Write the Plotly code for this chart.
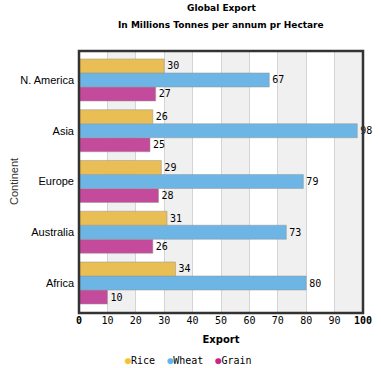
import plotly.graph_objects as go

continents = ["Africa", "Australia", "Europe", "Asia", "N. America"]
rice = [34, 31, 29, 26, 30]
wheat = [80, 73, 79, 98, 67]
grain = [10, 26, 28, 25, 27]
x_ticks = [0, 10, 20, 30, 40, 50, 60, 70, 80, 90, 100]
x_tick_text = ["<b>0</b>", "10", "20", "30", "40", "50", "60", "70", "80", "90", "<b>100</b>"]
series_names = ["Rice", "Wheat", "Grain"]

colors = {"Rice": "#e8be55", "Wheat": "#6db5e5", "Grain": "#c44b9c"}
legend_colors = {"Rice": "#f5c232", "Wheat": "#5ab8f0", "Grain": "#c8248c"}

fig = go.Figure()
mono = "DejaVu Sans Mono"
for name, vals in [("Grain", grain), ("Wheat", wheat), ("Rice", rice)]:
    fig.add_trace(go.Bar(
        y=continents, x=vals, orientation="h", name=name,
        marker=dict(color=colors[name], line=dict(color="rgba(150,150,150,0.5)", width=1)),
        text=[str(v) for v in vals], textposition="outside",
        textfont=dict(family=mono, size=10, color="#000"),
        cliponaxis=False, showlegend=False,
    ))

shapes = []
for start in [10, 30, 50, 70, 90]:
    shapes.append(dict(type="rect", xref="x", yref="paper", x0=start, x1=start + 10,
                       y0=0, y1=1, fillcolor="#f0f0f0", line=dict(width=0), layer="below"))
shapes.append(dict(type="rect", xref="paper", yref="paper", x0=0, x1=1, y0=0, y1=1,
                   line=dict(color="#333333", width=2.5), layer="above"))

legend_text = "  ".join(
    f'<span style="color:{legend_colors[n]}">●</span>{n}' for n in series_names)

fig.update_layout(
    width=381, height=368,
    margin=dict(l=79, r=18, t=51, b=55),
    paper_bgcolor="white", plot_bgcolor="white",
    barmode="group", bargap=0.172, bargroupgap=0.0,
    shapes=shapes, showlegend=False,
    annotations=[
        dict(text="<b>Global Export</b>", x=0.5, y=1, xref="paper", yref="paper",
             xanchor="center", yanchor="middle", yshift=43, showarrow=False,
             font=dict(family="DejaVu Sans", size=9, color="#000")),
        dict(text="<b>In Millions Tonnes per annum pr Hectare</b>", x=0.5, y=1, xref="paper", yref="paper",
             xanchor="center", yanchor="middle", yshift=26, showarrow=False,
             font=dict(family="DejaVu Sans", size=9, color="#000")),
        dict(text="Continent", x=0, y=0.5, xref="paper", yref="paper", textangle=-90,
             xanchor="center", yanchor="middle", xshift=-65, showarrow=False,
             font=dict(family="Liberation Sans", size=11, color="#333")),
        dict(text=legend_text, x=0.385, y=0, xref="paper", yref="paper",
             xanchor="center", yanchor="middle", yshift=-47, showarrow=False,
             font=dict(family=mono, size=10, color="#000")),
    ],
    xaxis=dict(range=[0, 100], tickvals=x_ticks, ticktext=x_tick_text, automargin=False,
               showgrid=True, gridcolor="#d4d4d4", gridwidth=1, zeroline=False,
               ticks="", tickfont=dict(family=mono, size=10, color="#000"),
               title=dict(text="<b>Export</b>", font=dict(family="DejaVu Sans", size=10, color="#000"), standoff=10)),
    yaxis=dict(categoryorder="array", categoryarray=continents, range=[-0.591, 4.571],
               showgrid=False, zeroline=False,
               ticks="", ticklabelstandoff=4, automargin=False,
               tickfont=dict(family="Liberation Sans", size=11, color="#000")),
)
fig.write_html("out.html", config={"displayModeBar": False},
               post_script="document.body.style.margin='0';")
